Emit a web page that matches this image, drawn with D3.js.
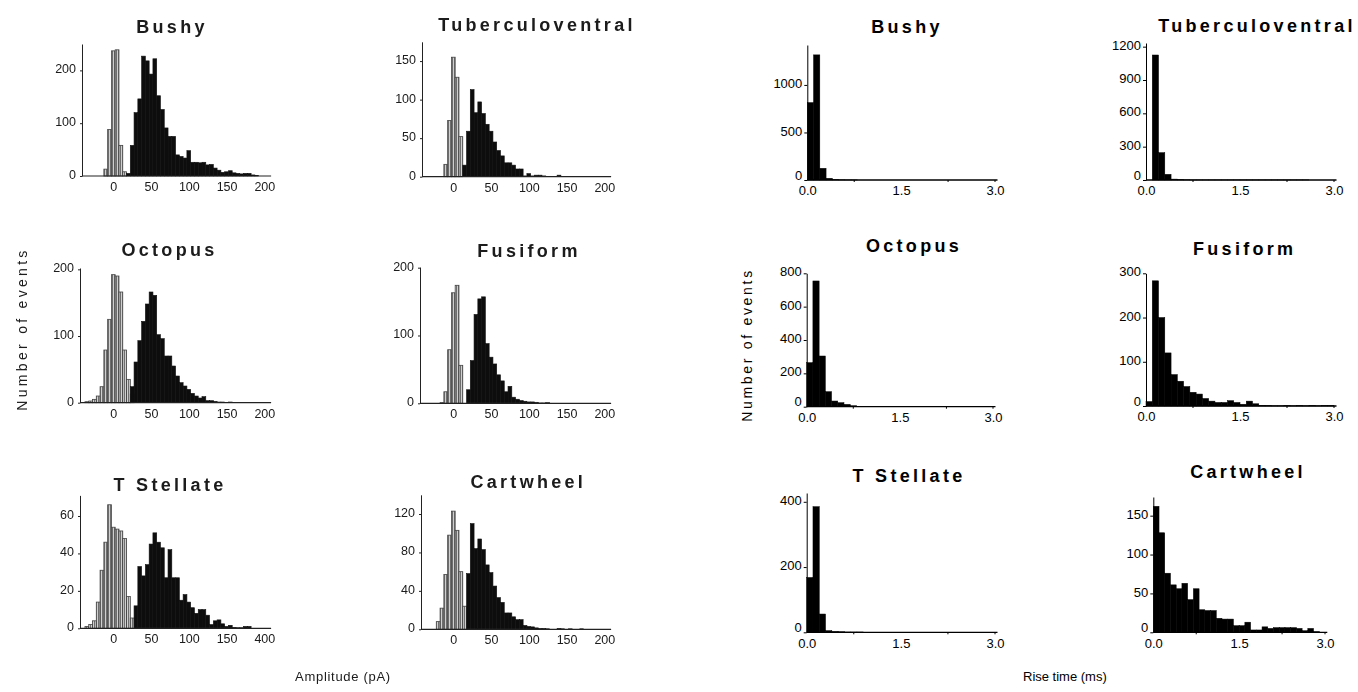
<!DOCTYPE html>
<html>
<head>
<meta charset="utf-8">
<script src="https://cdn.jsdelivr.net/npm/d3@7"></script>
<style>
  body { margin: 0; background: #fff; }
  svg { display: block; }
  text { font-family: "Liberation Sans", Arial, Helvetica, sans-serif; }
</style>
</head>
<body>
<svg id="fig" width="1358" height="692"></svg>
<script>
// ---- Data ---------------------------------------------------------------
const cellTypes = ["Bushy", "Tuberculoventral", "Octopus", "Fusiform", "T Stellate", "Cartwheel"];

// Amplitude histograms, 5 pA bins. "start" = centre (pA) of the first bin.
const ampNoiseStart = [-10, -10, -35, -15, -35, -20];
const ampNoise = [
  [13, 88, 237, 239, 58, 8],
  [16, 73, 155, 129, 52],
  [1.5, 2.5, 5, 10, 24, 79, 125, 192, 190, 166, 79, 35, 13],
  [1, 17, 79, 163, 174, 56],
  [1, 2, 4, 14, 31, 46, 66, 54, 53, 52, 48, 17, 5.5],
  [8, 22, 57, 98, 123, 103, 60, 24]
];
const ampEventStart = [20, 15, 25, 20, 30, 20];
const ampEvents = [
  [5, 58, 120, 146, 227, 218, 193, 222, 152, 126, 91, 75, 75, 40, 37, 34, 48, 26, 26, 25,
   26, 21, 22, 15, 11, 7, 8, 10, 6, 5, 4, 5, 5, 2, 1],
  [15, 59, 113, 83, 97, 82, 68, 59, 45, 34, 27, 18, 18, 15, 10, 10, 1, 4, 1, 2,
   2, 1, 0.5, 0.5, 0.5, 2, 0.5, 0.5, 0.5, 0.5, 0.5],
  [24, 61, 93, 122, 148, 166, 161, 102, 96, 70, 70, 55, 40, 30, 25, 20, 14, 10, 7, 9,
   3, 3, 2, 1, 1, 0.5, 1, 0.5],
  [20, 63, 131, 154, 157, 88, 68, 58, 42, 33, 17, 25, 9, 6, 4, 3, 2, 2, 1.5, 0.5, 0.5, 1],
  [12, 33, 28, 34, 45, 51, 46, 43, 27, 42, 27, 27, 15, 18, 14, 11, 8, 10, 10, 7,
   2, 4, 4.5, 2.4, 1, 1.6, 0.5, 0.3, 0.3, 1, 1],
  [58, 110, 84, 94, 83, 67, 59, 45, 33, 28, 17, 17, 13, 10, 10, 4, 3, 2.5, 1.5, 1,
   1, 0.5, 0, 0, 1, 0.5, 0, 0.5, 0, 0, 0.5]
];
const ampBinWidth = 5;
const ampYTicks = [[0, 100, 200], [0, 50, 100, 150], [0, 100, 200], [0, 100, 200], [0, 20, 40, 60], [0, 40, 80, 120]];
const ampYMax = [250, 175, 202, 201, 71, 140];
const ampXTicks = [0, 50, 100, 150, 200];
const ampXLabels = [
  ["0", "50", "100", "150", "200"], ["0", "50", "100", "150", "200"],
  ["0", "50", "100", "150", "200"], ["0", "50", "100", "150", "200"],
  ["0", "50", "100", "150", "400"], ["0", "50", "100", "150", "200"]
];

// Rise-time histograms, 0.1 ms bins starting at 0.
const riseBinWidth = 0.1;
const riseCounts = [
  [814, 1316, 123, 18, 4, 2, 1, 1],
  [0, 1125, 246, 51, 8, 3, 2, 1, 1, 1, 1, 1, 1, 1, 1, 1, 1, 1, 1, 1, 1, 1, 1, 1, 1, 1],
  [264, 754, 304, 90, 34, 24, 14, 6, 2, 1, 1, 1],
  [10, 283, 200, 120, 71, 56, 44, 31, 27, 17, 11, 8, 8, 12, 8, 4, 11, 5, 1.5, 1,
   0.5, 0.5, 1, 0.5, 1, 0.5, 1, 0.5, 1, 1],
  [168, 385, 56, 5, 3, 2, 1, 1, 1],
  [162, 128, 76, 61, 56, 63, 42, 56, 29, 28, 28, 18, 17, 17, 8.5, 8.5, 13, 3, 3, 7,
   5, 6, 6, 6, 6, 5, 2, 5, 1, 0]
];
const riseYTicks = [[0, 500, 1000], [0, 300, 600, 900, 1200], [0, 200, 400, 600, 800], [0, 100, 200, 300], [0, 200, 400], [0, 50, 100, 150]];
const riseYMax = [1420, 1233, 800, 300, 427, 174];
const riseXTicks = [0, 1.5, 3.0];
const riseMinorTicks = [0.75, 2.25];

// ---- Layout -------------------------------------------------------------
const ampFrames = [
  { ax: 82,  zero: 113.3, baseline: 176,   top: 44,    tx: 172,   ty: 33.3 },
  { ax: 422, zero: 453.3, baseline: 176.7, top: 41.8,  tx: 537,   ty: 31 },
  { ax: 80,  zero: 113.3, baseline: 402.7, top: 268,   tx: 169.5, ty: 256 },
  { ax: 420, zero: 453.3, baseline: 403.3, top: 267,   tx: 529,   ty: 256.5 },
  { ax: 80,  zero: 113.3, baseline: 628.3, top: 495.4, tx: 170,   ty: 490.5 },
  { ax: 421, zero: 453.3, baseline: 629.3, top: 494.8, tx: 528.3, ty: 487.5 }
];
const ampPxPerUnit = 0.755;

const riseFrames = [
  { ax: 807.3,  x3: 995,  baseline: 180,   top: 45,    tx: 907,    ty: 33.3 },
  { ax: 1146,   x3: 1334, baseline: 180,   top: 43,    tx: 1257,   ty: 31.7 },
  { ax: 806.7,  x3: 993,  baseline: 406.7, top: 273.3, tx: 914,    ty: 251.7 },
  { ax: 1146,   x3: 1334, baseline: 406,   top: 273.3, tx: 1244.7, ty: 255 },
  { ax: 806.7,  x3: 995,  baseline: 632.3, top: 493,   tx: 909,    ty: 481.7 },
  { ax: 1153.3, x3: 1325, baseline: 632.3, top: 497,   tx: 1248,   ty: 478 }
];

const svg = d3.select("#fig");
const defs = svg.append("defs");

// vertical hatching used for the noise distributions
const hatch = defs.append("pattern")
  .attr("id", "hatch").attr("patternUnits", "userSpaceOnUse")
  .attr("width", 2).attr("height", 4);
hatch.append("rect").attr("width", 2).attr("height", 4).attr("fill", "#cfcfcf");
hatch.append("rect").attr("width", 1).attr("height", 4).attr("fill", "#6e6e6e");

const soft = defs.append("filter").attr("id", "soft")
  .attr("x", "-5%").attr("y", "-5%").attr("width", "110%").attr("height", "110%");
soft.append("feGaussianBlur").attr("stdDeviation", 0.45);

function title(g, f, name, color) {
  g.append("text")
    .attr("x", f.tx).attr("y", f.ty)
    .attr("text-anchor", "middle")
    .attr("font-size", 18).attr("font-weight", "bold")
    .attr("letter-spacing", 3.3)
    .attr("fill", color)
    .text(name);
}

// ---- Amplitude panels ---------------------------------------------------
const left = svg.append("g").attr("filter", "url(#soft)");

ampFrames.forEach((f, i) => {
  const g = left.append("g");
  const x = d3.scaleLinear().domain([0, 200]).range([f.zero, f.zero + 200 * ampPxPerUnit]);
  const y = d3.scaleLinear().domain([0, ampYMax[i]]).range([f.baseline, f.top]);

  title(g, f, cellTypes[i], "#1a1a1a");

  const noise = ampNoise[i].map((v, k) => ({ c: ampNoiseStart[i] + k * ampBinWidth, v }));
  const events = ampEvents[i].map((v, k) => ({ c: ampEventStart[i] + k * ampBinWidth, v }));

  g.append("g").selectAll("rect").data(noise).join("rect")
    .attr("x", d => x(d.c - ampBinWidth / 2))
    .attr("width", d => x(d.c + ampBinWidth / 2) - x(d.c - ampBinWidth / 2))
    .attr("y", d => y(d.v))
    .attr("height", d => y(0) - y(d.v))
    .attr("fill", "url(#hatch)")
    .attr("stroke", "#444").attr("stroke-width", 0.8);

  g.append("g").selectAll("rect").data(events).join("rect")
    .attr("x", d => x(d.c - ampBinWidth / 2))
    .attr("width", d => x(d.c + ampBinWidth / 2) - x(d.c - ampBinWidth / 2))
    .attr("y", d => y(d.v))
    .attr("height", d => y(0) - y(d.v))
    .attr("fill", "#111").attr("stroke", "#111").attr("stroke-width", 0.6);

  // axes
  const yAxis = d3.axisLeft(y).tickValues(ampYTicks[i]).tickSize(2).tickSizeOuter(0).tickPadding(4);
  const ya = g.append("g").attr("transform", `translate(${f.ax},0)`).call(yAxis);
  const xAxis = d3.axisBottom(x).tickValues(ampXTicks).tickSize(0).tickPadding(6)
    .tickFormat((d, k) => ampXLabels[i][k]);
  const xa = g.append("g").attr("transform", `translate(0,${f.baseline})`).call(xAxis);
  xa.select(".domain").remove();
  g.append("line")
    .attr("x1", f.ax).attr("x2", x(209))
    .attr("y1", f.baseline).attr("y2", f.baseline)
    .attr("stroke", "#222").attr("stroke-width", 1.2);
  ya.selectAll("text").attr("dy", "0.2em");
  [ya, xa].forEach(a => {
    a.selectAll("text").attr("font-size", 12.5).attr("fill", "#1a1a1a")
      .attr("font-family", '"Liberation Sans", Arial, sans-serif');
    a.selectAll("line").attr("stroke", "#222");
    a.select(".domain").attr("stroke", "#222").attr("stroke-width", 1);
  });
});

left.append("text")
  .attr("transform", "translate(27,329) rotate(-90)")
  .attr("text-anchor", "middle")
  .attr("font-size", 14).attr("letter-spacing", 3.3).attr("fill", "#1a1a1a")
  .text("Number of events");

left.append("text")
  .attr("x", 343).attr("y", 681)
  .attr("text-anchor", "middle")
  .attr("font-size", 13).attr("letter-spacing", 0.7).attr("fill", "#1a1a1a")
  .text("Amplitude (pA)");

// ---- Rise-time panels ---------------------------------------------------
const right = svg.append("g");

riseFrames.forEach((f, i) => {
  const g = right.append("g");
  const x = d3.scaleLinear().domain([0, 3]).range([f.ax, f.x3]);
  const y = d3.scaleLinear().domain([0, riseYMax[i]]).range([f.baseline, f.top]);

  title(g, f, cellTypes[i], "#000");

  const bins = riseCounts[i].map((v, k) => ({ x0: k * riseBinWidth, x1: (k + 1) * riseBinWidth, v }));
  g.append("g").selectAll("rect").data(bins).join("rect")
    .attr("x", d => x(d.x0))
    .attr("width", d => x(d.x1) - x(d.x0))
    .attr("y", d => y(d.v))
    .attr("height", d => y(0) - y(d.v))
    .attr("fill", "#000").attr("stroke", "#000").attr("stroke-width", 0.5);

  const yAxis = d3.axisLeft(y).tickValues(riseYTicks[i]).tickSize(3).tickSizeOuter(0).tickPadding(2)
    .tickFormat(d3.format("d"));
  const ya = g.append("g").attr("transform", `translate(${f.ax},0)`).call(yAxis);
  const xAxis = d3.axisBottom(x).tickValues(riseXTicks).tickSize(0).tickPadding(6)
    .tickFormat(d3.format(".1f"));
  const xa = g.append("g").attr("transform", `translate(0,${f.baseline})`).call(xAxis);
  xa.select(".domain").remove();
  g.append("line")
    .attr("x1", f.ax).attr("x2", x(3.04))
    .attr("y1", f.baseline).attr("y2", f.baseline)
    .attr("stroke", "#000").attr("stroke-width", 1.3);
  g.append("g").selectAll("line").data(riseMinorTicks.concat([3])).join("line")
    .attr("x1", d => x(d)).attr("x2", d => x(d))
    .attr("y1", f.baseline).attr("y2", f.baseline + 2)
    .attr("stroke", "#000");
  // the zero label sits just above the baseline so it clears the "0.0" below it
  ya.selectAll("text").attr("dy", d => d === 0 ? "-1px" : "0.2em");
  [ya, xa].forEach(a => {
    a.selectAll("text").attr("font-size", 13).attr("fill", "#000")
      .attr("font-family", '"Liberation Sans", Arial, sans-serif');
    a.selectAll("line").attr("stroke", "#000");
    a.select(".domain").attr("stroke", "#000").attr("stroke-width", 1);
  });
});

right.append("text")
  .attr("transform", "translate(752,345) rotate(-90)")
  .attr("text-anchor", "middle")
  .attr("font-size", 14).attr("letter-spacing", 2.7).attr("fill", "#000")
  .text("Number of events");

right.append("text")
  .attr("x", 1023).attr("y", 681)
  .attr("font-size", 13).attr("fill", "#000")
  .text("Rise time (ms)");
</script>
</body>
</html>
